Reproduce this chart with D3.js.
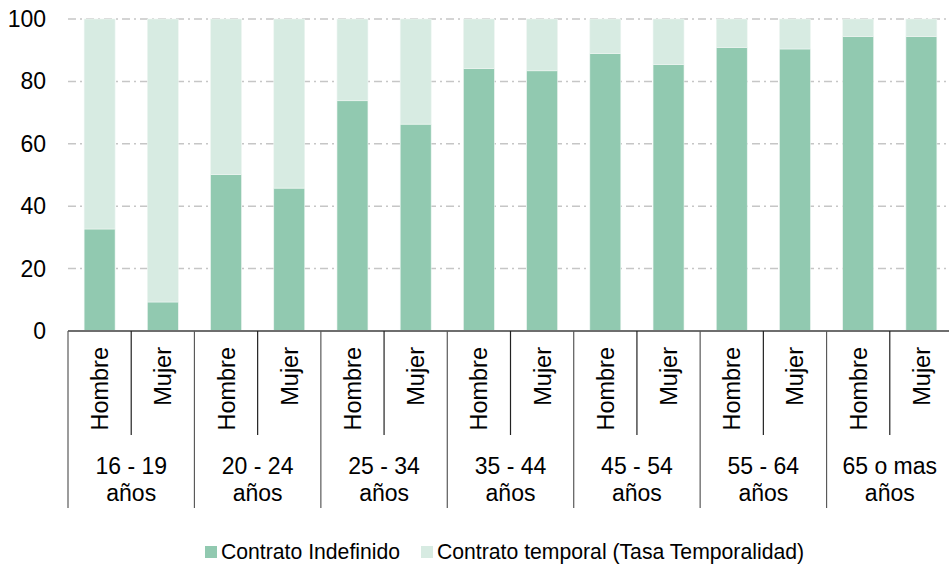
<!DOCTYPE html>
<html>
<head>
<meta charset="utf-8">
<script src="https://cdn.jsdelivr.net/npm/d3@7"></script>
<style>
  html, body { margin: 0; padding: 0; background: #fff; }
  svg { display: block; font-family: Arial, "Liberation Sans", sans-serif; }
</style>
</head>
<body>
<svg id="chart" width="949" height="568"></svg>
<script>
const ageGroups = [["16 - 19", "años"], ["20 - 24", "años"], ["25 - 34", "años"], ["35 - 44", "años"], ["45 - 54", "años"], ["55 - 64", "años"], ["65 o mas", "años"]];
const sexes = ["Hombre", "Mujer"];
const indefinido = [32.7, 9.3, 50.1, 45.8, 73.8, 66.3, 84.1, 83.4, 88.9, 85.4, 90.9, 90.4, 94.4, 94.4];
const temporal = [67.3, 90.7, 49.9, 54.2, 26.2, 33.7, 15.9, 16.6, 11.1, 14.6, 9.1, 9.6, 5.6, 5.6];
const yTicks = [0, 20, 40, 60, 80, 100];
const seriesNames = ["Contrato Indefinido", "Contrato temporal (Tasa Temporalidad)"];
const colors = ["#91C9B0", "#D7EBE2"];

const svg = d3.select("#chart");
const pLeft = 68, pRight = 953, pTop = 19, pBottom = 331;

const rows = [];
ageGroups.forEach((g, gi) => sexes.forEach((s, si) => {
  const i = gi * 2 + si;
  rows.push({ id: i, group: gi, sex: s, indef: indefinido[i], temp: temporal[i] });
}));

const x = d3.scaleBand().domain(rows.map(d => d.id)).range([pLeft, pRight]).paddingInner(0.51).paddingOuter(0.255);
const y = d3.scaleLinear().domain([0, 100]).range([pBottom, pTop]);
const step = x.step();

// gridlines
svg.append("g").selectAll("line").data(yTicks.filter(t => t > 0)).join("line")
  .attr("x1", pLeft).attr("x2", 949)
  .attr("y1", d => y(d)).attr("y2", d => y(d))
  .attr("stroke", "#c6c6c6").attr("stroke-width", 1.5)
  .attr("stroke-dasharray", "8,4,2,4");

// y labels
svg.append("g").selectAll("text").data(yTicks).join("text")
  .attr("x", 46).attr("y", d => y(d)).attr("dy", "0.35em")
  .attr("text-anchor", "end").attr("font-size", 23).attr("fill", "#000")
  .text(d => d);

// stacked bars
const stack = d3.stack().keys(["indef", "temp"])(rows);
svg.append("g").selectAll("g").data(stack).join("g")
  .attr("fill", (d, i) => colors[i])
  .selectAll("rect").data(d => d).join("rect")
  .attr("x", d => x(d.data.id))
  .attr("width", x.bandwidth())
  .attr("y", d => y(d[1]))
  .attr("height", d => y(d[0]) - y(d[1]))
  .attr("stroke", "#eef6f2").attr("stroke-width", 0.6);

// x axis line
svg.append("line").attr("x1", pLeft).attr("x2", pRight).attr("y1", pBottom).attr("y2", pBottom)
  .attr("stroke", "#6e6e6e").attr("stroke-width", 2);

// separators
const sepIdx = d3.range(0, rows.length + 1);
svg.append("g").selectAll("line").data(sepIdx).join("line")
  .attr("x1", i => pLeft + i * step).attr("x2", i => pLeft + i * step)
  .attr("y1", pBottom)
  .attr("y2", i => i % 2 === 0 ? 508 : 435)
  .attr("stroke", i => i % 2 === 0 ? "#5a5a5a" : "#222")
  .attr("stroke-width", 1.2);

// sex labels rotated
svg.append("g").selectAll("text").data(rows).join("text")
  .attr("transform", d => `translate(${x(d.id) + x.bandwidth() / 2},347) rotate(-90)`)
  .attr("text-anchor", "end").attr("dy", "0.36em")
  .attr("font-size", 23.5).attr("fill", "#000")
  .text(d => d.sex);

// group labels
const gl = svg.append("g").selectAll("text").data(ageGroups).join("text")
  .attr("text-anchor", "middle").attr("font-size", 23).attr("fill", "#000");
gl.append("tspan").attr("x", (d, i) => pLeft + (i * 2 + 1) * step).attr("y", 474).text(d => d[0]);
gl.append("tspan").attr("x", (d, i) => pLeft + (i * 2 + 1) * step).attr("y", 501).text(d => d[1]);

// legend
const legend = svg.append("g");
const lx = [205, 421];
seriesNames.forEach((n, i) => {
  legend.append("rect").attr("x", lx[i]).attr("y", 546).attr("width", 12).attr("height", 12).attr("fill", colors[i]);
  legend.append("text").attr("x", lx[i] + 16).attr("y", 552).attr("dy", "0.35em")
    .attr("font-size", 21.2).attr("fill", "#000").text(n);
});
</script>
</body>
</html>
